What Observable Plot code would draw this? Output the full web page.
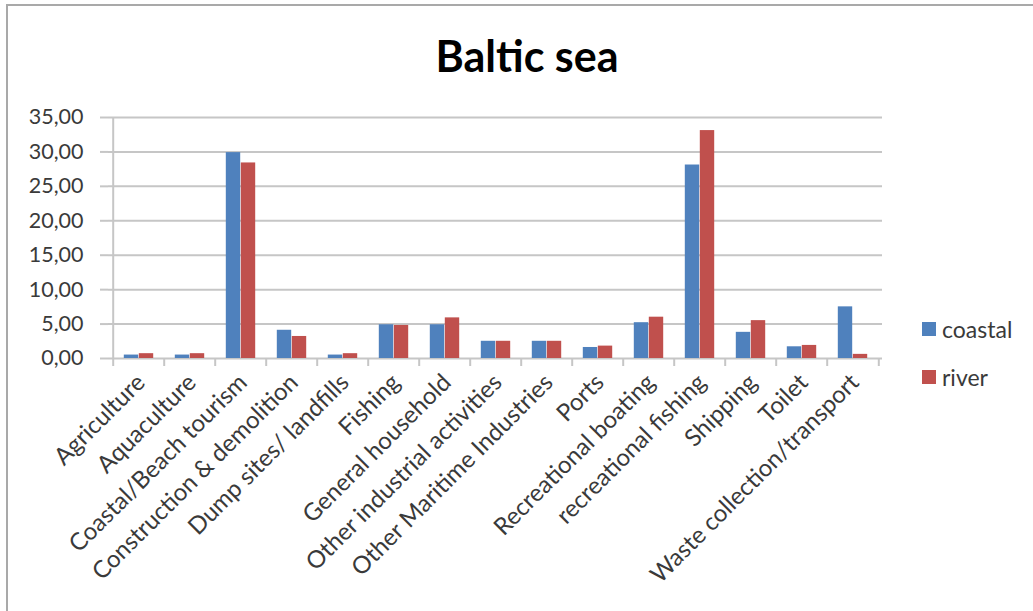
<!DOCTYPE html>
<html>
<head>
<meta charset="utf-8">
<script src="https://cdn.jsdelivr.net/npm/d3@7"></script>
<script src="https://cdn.jsdelivr.net/npm/@observablehq/plot@0.6"></script>
<style>
  body { margin: 0; background: #fff; font-family: Lato, "Open Sans", sans-serif; }
  #chart { position: relative; width: 1033px; height: 611px; overflow: hidden; }
  #frame { position: absolute; left: 6px; top: 4px; width: 1060px; height: 640px;
           border: 2px solid #a9a9a9; box-sizing: border-box; pointer-events: none; }
  #title { position: absolute; top: 30px; left: 0; width: 1054px; text-align: center;
           font-weight: 700; font-size: 43px; color: #000; line-height: 1.2; }
  #legend { position: absolute; left: 922px; top: 313px; font-size: 23px; color: #3a3a3a; }
  #legend .item { display: flex; align-items: center; height: 32px; margin-bottom: 16px; }
  #legend .sw { width: 14px; height: 14px; margin-right: 6px; }
  #plot { position: absolute; left: 0; top: 0; }
</style>
</head>
<body>
<div id="chart">
  <div id="plot"></div>
  <div id="frame"></div>
  <div id="title">Baltic sea</div>
  <div id="legend"></div>
</div>
<script>
// Litter sources, share per source for coastal and river sites
const categories = [
  "Agriculture",
  "Aquaculture",
  "Coastal/Beach tourism",
  "Construction & demolition",
  "Dump sites/ landfills",
  "Fishing",
  "General household",
  "Other industrial activities",
  "Other Maritime Industries",
  "Ports",
  "Recreational boating",
  "recreational fishing",
  "Shipping",
  "Toilet",
  "Waste collection/transport"
];
const coastal = [0.5, 0.5, 29.9, 4.1, 0.5, 4.9, 4.9, 2.5, 2.5, 1.6, 5.2, 28.1, 3.8, 1.7, 7.5];
const river   = [0.7, 0.7, 28.4, 3.2, 0.7, 4.8, 5.9, 2.5, 2.5, 1.8, 6.0, 33.1, 5.5, 1.9, 0.6];
const seriesNames = ["coastal", "river"];
const seriesColors = ["#4f81bd", "#c0504d"];
const yTicks = [0, 5, 10, 15, 20, 25, 30, 35];

const rows = categories.map((c, i) => ({category: c, coastal: coastal[i], river: river[i]}));

const W = 1033, H = 611;
const mL = 108, mR = 151, mT = 117, mB = 253;
const bw = (W - mL - mR) / categories.length;   // width of one category slot
const barW = 15;                                 // width of a single bar
const gridColor = "#c6c6c6";
const textColor = "#3a3a3a";

const chart = Plot.plot({
  width: W,
  height: H,
  marginLeft: mL,
  marginRight: mR,
  marginTop: mT,
  marginBottom: mB,
  style: {fontFamily: "Lato, 'Open Sans', sans-serif", fontSize: "21.5px", color: textColor, background: "transparent"},
  x: {domain: categories, padding: 0, label: null},
  y: {domain: [0, 35], label: null},
  marks: [
    Plot.ruleY(yTicks, {stroke: gridColor, strokeWidth: 2}),
    Plot.ruleX([categories[0]], {dx: -bw / 2, stroke: gridColor, strokeWidth: 2}),
    Plot.barY(rows, {x: "category", y: "coastal", fill: seriesColors[0],
                     insetLeft: bw / 2 - barW, insetRight: bw / 2}),
    Plot.barY(rows, {x: "category", y: "river", fill: seriesColors[1],
                     insetLeft: bw / 2, insetRight: bw / 2 - barW}),
    Plot.axisY({ticks: yTicks, tickSize: 8, tickPadding: 17, stroke: gridColor, strokeWidth: 2,
                tickFormat: d => d.toFixed(2).replace(".", ",")}),
    Plot.axisX({ticks: categories, tickSize: 8, dx: -bw / 2, stroke: gridColor, strokeWidth: 2,
                tickFormat: () => ""}),
    Plot.ruleX([categories[categories.length - 1]], {dx: bw / 2, stroke: gridColor, strokeWidth: 2,
                insetTop: H - mT - mB, insetBottom: -8}),
    Plot.axisX({ticks: categories, tickSize: 0, tickPadding: 20, tickRotate: -45, fontSize: 24, dx: 2})
  ]
});
document.getElementById("plot").append(chart);

const legend = document.getElementById("legend");
seriesNames.forEach((name, i) => {
  const item = document.createElement("div");
  item.className = "item";
  const sw = document.createElement("span");
  sw.className = "sw";
  sw.style.background = seriesColors[i];
  const label = document.createElement("span");
  label.textContent = name;
  item.append(sw, label);
  legend.append(item);
});
</script>
</body>
</html>
